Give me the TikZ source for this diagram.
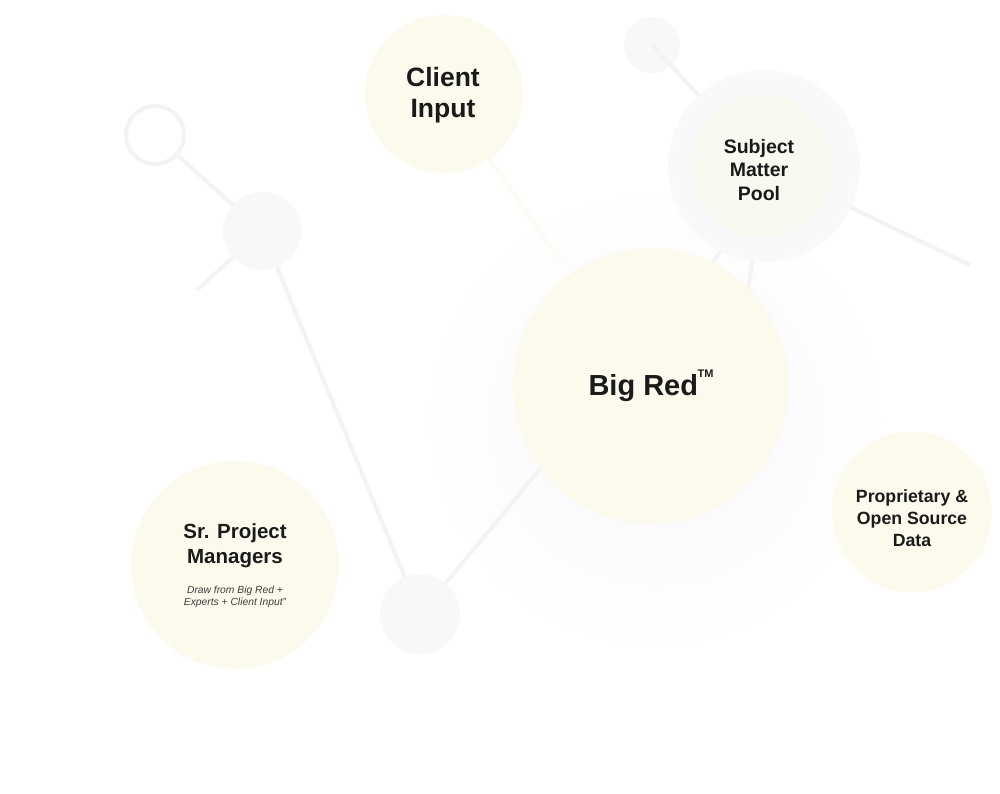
\documentclass[tikz,border=0pt]{standalone}
\usepackage{fontspec}
\setmainfont{Liberation Sans}
\definecolor{bubble}{HTML}{FBFAEC}
\definecolor{ghost}{HTML}{F8F8F8}
\definecolor{link}{HTML}{F3F3F3}
\definecolor{ink}{HTML}{1A1A1A}
\definecolor{halo}{HTML}{F7F7FC}
\begin{document}
\begin{tikzpicture}[x=1pt,y=-1pt,
  bubblenode/.style={circle,fill=bubble,inner sep=0pt,text=ink,align=center,font=\bfseries},
  ghostnode/.style={circle,fill=ghost,inner sep=0pt},
  ringnode/.style={circle,draw=link,line width=4pt,inner sep=0pt},
  linkline/.style={draw=link,line width=4pt},
  warmline/.style={draw=bubble!60!white,line width=4pt}]
\useasboundingbox[fill=white] (0,0) rectangle (1000,794);
% halo around Big Red
\shade[inner color=halo,outer color=white] (655,420) circle[radius=240];
% coordinates
\coordinate (e1) at (197,290);
\coordinate (e2) at (970,265);
\coordinate (e3) at (712,264);
\coordinate (e4) at (748,292);
\coordinate (e5) at (560,445);
% nodes (background layer)
\node[ringnode,minimum size=58pt] (ring) at (155,135) {};
\node[ghostnode,minimum size=78pt] (midl) at (262,231) {};
\node[ghostnode,minimum size=80pt] (botc) at (420,614) {};
\node[ghostnode,minimum size=56pt] (topc) at (652,45) {};
% links
\draw[linkline] (ring) -- (midl);
\draw[linkline] (midl) -- (e1);
\draw[linkline] (midl) -- (botc);
\draw[linkline] (botc) -- (e5);
\draw[linkline] (topc.center) -- (763,165);
\draw[linkline] (763,165) -- (e2);
\draw[linkline] (740,220) -- (e3);
\draw[linkline] (758,220) -- (e4);
\draw[warmline] (444,94) -- (560,260);
% subject matter halo rings
\fill[ghost!80!white] (764,166) circle[radius=96];
\fill[ghost] (764,166) circle[radius=85];
% main bubbles
\node[bubblenode,minimum size=158pt] (client) at (444,94) {};
\node[text=ink,align=center,font=\bfseries\fontsize{26.5}{31}\selectfont] (clientt) at (443,95) {Client\\Input};
\node[bubblenode,fill=bubble!60!ghost,minimum size=142pt] (smp) at (762,166) {};
\node[text=ink,align=center,font=\bfseries\fontsize{19.5}{23.5}\selectfont] (smpt) at (759,170) {Subject\\Matter\\Pool};
\node[bubblenode,minimum size=276pt,font=\bfseries\fontsize{29}{34}\selectfont] (bigred) at (651,386) {Big Red\raisebox{0.62em}{\fontsize{11}{11}\selectfont\bfseries\kern-0.5pt TM}};
\node[bubblenode,minimum size=160pt] (prop) at (912,512) {};
\node[text=ink,align=center,font=\bfseries\fontsize{17.7}{22}\selectfont] (propt) at (912,518) {Proprietary \&\\Open Source\\Data};
\node[bubblenode,minimum size=208pt] (srpm) at (235,565) {};
\node[text=ink,align=center,font=\bfseries\fontsize{20.5}{25}\selectfont] (srpmt) at (235,546) {Sr. Project\\Managers};
\node[text=ink!85,align=center,font=\itshape\fontsize{10.3}{12}\selectfont] (srpms) at (235,597) {Draw from Big Red +\\Experts + Client Input”};
\end{tikzpicture}
\end{document}
